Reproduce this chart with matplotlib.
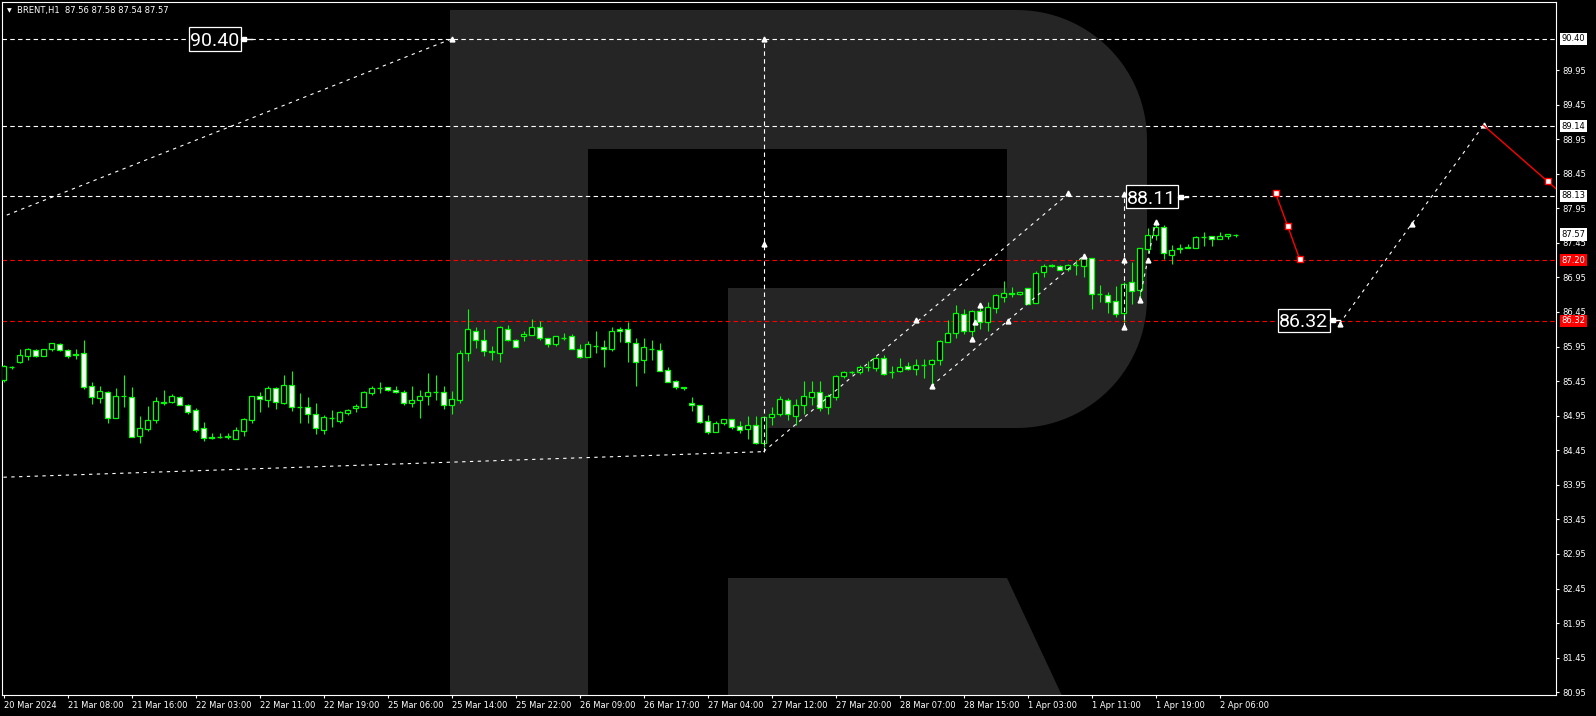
import numpy as np
import matplotlib
matplotlib.use("Agg")
import matplotlib.pyplot as plt
import matplotlib.transforms as mtransforms
from matplotlib.patches import Polygon, Rectangle
from matplotlib import font_manager

# BRENT H1 candles, 20 Mar - 2 Apr 2024
opens = [85.46, 85.66, 85.73, 85.82, 85.90, 85.82, 85.91, 85.99, 85.90, 85.83,
         85.85, 85.38, 85.21, 85.29, 84.92, 85.24, 85.22, 84.65, 84.76, 84.89,
         85.14, 85.15, 85.22, 85.11, 85.03, 84.77, 84.64, 84.64, 84.64, 84.62,
         84.73, 84.89, 85.23, 85.18, 85.35, 85.14, 85.40, 85.08, 85.07, 84.98,
         84.75, 84.91, 84.88, 84.99, 85.06, 85.08, 85.28, 85.35, 85.36, 85.32,
         85.30, 85.14, 85.17, 85.24, 85.30, 85.29, 85.11, 85.18, 85.86, 86.18,
         86.04, 85.89, 85.86, 86.21, 86.05, 86.10, 86.12, 86.24, 86.08, 85.99,
         86.07, 86.10, 85.92, 85.80, 85.96, 85.95, 85.92, 86.21, 86.20, 86.00,
         85.75, 85.91, 85.90, 85.61, 85.45, 85.37, 85.14, 85.10, 84.87, 84.72,
         84.85, 84.90, 84.80, 84.76, 84.82, 84.56, 84.93, 84.98, 85.17, 84.95,
         85.11, 85.22, 85.29, 85.07, 85.22, 85.53, 85.58, 85.58, 85.65, 85.64,
         85.79, 85.58, 85.59, 85.67, 85.63, 85.69, 85.70, 85.75, 86.02, 86.15,
         86.42, 86.18, 86.47, 86.31, 86.51, 86.67, 86.73, 86.71, 86.80, 86.58,
         87.03, 87.11, 87.12, 87.07, 87.13, 87.12, 87.23, 86.71, 86.70, 86.61,
         86.43, 86.88, 86.77, 87.36, 87.57, 87.68, 87.28, 87.36, 87.38, 87.37,
         87.53, 87.55, 87.51, 87.55, 87.56]
highs = [85.68, 85.67, 85.91, 85.93, 85.91, 85.92, 86.00, 86.00, 85.92, 85.91,
         86.05, 85.44, 85.38, 85.31, 85.35, 85.54, 85.37, 84.95, 85.09, 85.22,
         85.32, 85.27, 85.24, 85.12, 85.06, 84.86, 84.70, 84.70, 84.70, 84.78,
         84.92, 85.23, 85.29, 85.38, 85.37, 85.54, 85.60, 85.28, 85.22, 85.13,
         84.96, 85.03, 85.02, 85.05, 85.12, 85.31, 85.38, 85.44, 85.37, 85.38,
         85.32, 85.38, 85.32, 85.57, 85.54, 85.38, 85.31, 85.90, 86.49, 86.24,
         86.21, 85.96, 86.25, 86.26, 86.06, 86.18, 86.35, 86.32, 86.08, 86.10,
         86.15, 86.13, 85.98, 86.03, 86.18, 86.04, 86.24, 86.23, 86.30, 86.08,
         86.08, 86.04, 86.00, 85.66, 85.47, 85.37, 85.22, 85.11, 84.96, 84.88,
         84.90, 84.90, 84.88, 84.95, 84.94, 84.94, 85.08, 85.23, 85.20, 85.19,
         85.45, 85.45, 85.45, 85.27, 85.54, 85.60, 85.60, 85.68, 85.74, 85.81,
         85.83, 85.67, 85.79, 85.73, 85.77, 85.77, 85.77, 86.05, 86.34, 86.55,
         86.50, 86.48, 86.54, 86.59, 86.71, 86.90, 86.81, 86.74, 86.80, 87.05,
         87.15, 87.14, 87.13, 87.14, 87.20, 87.29, 87.23, 86.84, 86.74, 86.83,
         86.89, 87.18, 87.38, 87.66, 87.72, 87.71, 87.42, 87.43, 87.43, 87.55,
         87.60, 87.55, 87.61, 87.58, 87.58]
lows = [85.44, 85.63, 85.71, 85.75, 85.80, 85.82, 85.89, 85.88, 85.79, 85.77,
        85.34, 85.12, 85.13, 84.85, 84.92, 85.08, 84.64, 84.56, 84.73, 84.85,
        85.10, 85.14, 85.10, 84.98, 84.71, 84.59, 84.62, 84.63, 84.61, 84.62,
        84.66, 84.85, 85.00, 85.08, 85.05, 85.12, 85.02, 84.85, 84.85, 84.68,
        84.68, 84.78, 84.84, 84.96, 85.01, 85.08, 85.25, 85.28, 85.31, 85.28,
        85.11, 85.08, 84.92, 85.11, 85.18, 85.05, 84.97, 85.14, 85.74, 85.93,
        85.82, 85.76, 85.73, 86.03, 85.95, 86.03, 86.12, 86.05, 85.95, 85.96,
        86.04, 85.92, 85.78, 85.80, 85.85, 85.65, 85.89, 86.02, 85.73, 85.38,
        85.57, 85.76, 85.60, 85.44, 85.33, 85.32, 85.02, 84.85, 84.68, 84.72,
        84.82, 84.76, 84.70, 84.62, 84.54, 84.50, 84.82, 84.94, 84.89, 84.82,
        84.97, 85.10, 85.02, 84.97, 85.18, 85.50, 85.56, 85.55, 85.60, 85.60,
        85.54, 85.50, 85.58, 85.61, 85.54, 85.50, 85.38, 85.69, 86.01, 86.08,
        86.13, 86.10, 86.20, 86.18, 86.44, 86.60, 86.67, 86.70, 86.56, 86.58,
        86.96, 87.10, 87.06, 87.05, 86.99, 86.95, 86.49, 86.59, 86.44, 86.38,
        86.30, 86.57, 86.63, 87.31, 87.49, 87.21, 87.14, 87.31, 87.38, 87.37,
        87.41, 87.40, 87.50, 87.51, 87.54]
closes = [85.67, 85.66, 85.83, 85.91, 85.82, 85.92, 86.00, 85.90, 85.82, 85.84,
          85.37, 85.22, 85.31, 84.92, 85.24, 85.23, 84.64, 84.77, 84.89, 85.16,
          85.15, 85.24, 85.11, 85.01, 84.75, 84.63, 84.63, 84.64, 84.65, 84.74,
          84.90, 85.23, 85.19, 85.35, 85.15, 85.40, 85.08, 85.08, 84.98, 84.77,
          84.93, 84.91, 85.00, 85.03, 85.09, 85.30, 85.35, 85.35, 85.32, 85.29,
          85.14, 85.18, 85.24, 85.30, 85.30, 85.11, 85.19, 85.85, 86.20, 86.05,
          85.89, 85.87, 86.23, 86.05, 85.95, 86.13, 86.24, 86.08, 85.99, 86.10,
          86.07, 85.92, 85.80, 85.99, 85.96, 85.92, 86.18, 86.17, 86.01, 85.73,
          85.94, 85.91, 85.60, 85.44, 85.37, 85.35, 85.11, 84.86, 84.72, 84.85,
          84.90, 84.79, 84.75, 84.82, 84.56, 84.93, 84.98, 85.19, 84.97, 85.11,
          85.24, 85.29, 85.06, 85.24, 85.52, 85.58, 85.58, 85.66, 85.66, 85.79,
          85.56, 85.58, 85.66, 85.63, 85.69, 85.69, 85.75, 86.03, 86.14, 86.43,
          86.18, 86.46, 86.31, 86.52, 86.70, 86.73, 86.71, 86.74, 86.56, 87.02,
          87.12, 87.13, 87.06, 87.13, 87.13, 87.23, 86.71, 86.71, 86.60, 86.42,
          86.86, 86.76, 87.37, 87.56, 87.68, 87.30, 87.34, 87.37, 87.39, 87.53,
          87.53, 87.51, 87.55, 87.58, 87.57]

time_labels = ["20 Mar 2024", "21 Mar 08:00", "21 Mar 16:00", "22 Mar 03:00",
               "22 Mar 11:00", "22 Mar 19:00", "25 Mar 06:00", "25 Mar 14:00",
               "25 Mar 22:00", "26 Mar 09:00", "26 Mar 17:00", "27 Mar 04:00",
               "27 Mar 12:00", "27 Mar 20:00", "28 Mar 07:00", "28 Mar 15:00",
               "1 Apr 03:00", "1 Apr 11:00", "1 Apr 19:00", "2 Apr 06:00"]
time_ticks = list(range(0, 153, 8))

axis_ticks = [80.95, 81.45, 81.95, 82.45, 82.95, 83.45, 83.95, 84.45, 84.95,
              85.45, 85.95, 86.45, 86.95, 87.45, 87.95, 88.45, 88.95, 89.45, 89.95]
white_levels = [90.40, 89.14, 88.13]
red_levels = [87.20, 86.32]
bid = 87.57

# analyst drawings (bar index, price)
upper_left_x, upper_left_y = [-0.5, 56], [87.81, 90.40]
lower_left_x, lower_left_y = [0, 95], [84.06, 84.43]
vert1_x, vert1_y = [95, 95], [84.43, 90.40]
chan_hi_x, chan_hi_y = [95, 133], [84.43, 88.15]
chan_lo_x, chan_lo_y = [116, 135], [85.38, 87.26]
vert2_x, vert2_y = [140, 140], [86.24, 88.13]
jump_x, jump_y = [142, 144], [86.63, 87.75]
arrow_x = [56, 95, 95, 114, 116, 121, 121.4, 122, 125.5, 133, 135, 140, 140, 140, 142, 143, 144, 167, 176, 185]
arrow_y = [90.40, 90.40, 87.43, 86.33, 85.38, 86.06, 86.30, 86.55, 86.32, 88.17, 87.26, 88.15, 87.20, 86.24, 86.63, 87.20, 87.75, 86.28, 87.72, 89.15]

fc_red1_x, fc_red1_y = [159, 160.5, 162], [88.17, 87.70, 87.22]
fc_white_x, fc_white_y = [167, 176, 185], [86.28, 87.72, 89.15]
fc_red2_x, fc_red2_y = [185, 193, 196], [89.15, 88.34, 88.04]

price_boxes = [("90.40", 26.45, 90.40, 29.7, 31.1),
               ("88.11", 143.5, 88.12, 146.8, 148.0),
               ("86.32", 162.5, 86.33, 165.8, 167.0)]

GREEN = "#00ff00"
RED = "#ff0000"
LOGO = "#252525"

W, H = 1596, 716
fig = plt.figure(figsize=(W / 100, H / 100), dpi=100, facecolor="black")
ax = fig.add_axes([2 / W, 1 - 695 / H, 1554 / W, 693 / H])
ax.set_facecolor("black")
ax.set_xlim(-0.19, 194.06)
ax.set_ylim(80.91, 90.934)

# watermark "R" (image pixel coords)
pix = mtransforms.Affine2D().scale(1 / W, -1 / H).translate(0, 1) + fig.transFigure
t = np.linspace(0, np.pi / 2, 30)
arc_top = np.column_stack([1017 + 130 * np.sin(t), 140 - 130 * np.cos(t)])
arc_bot = np.column_stack([1017 + 130 * np.cos(t), 298 + 130 * np.sin(t)])
outline = np.vstack([[[450, 10]], arc_top, arc_bot,
                     [[728, 428], [728, 288], [1007, 288], [1007, 149],
                      [588, 149], [588, 700], [450, 700]]])
ax.add_patch(Polygon(outline, closed=True, transform=pix, fc=LOGO, ec="none", zorder=0))
ax.add_patch(Polygon([[728, 578], [1007, 578], [1064, 700], [728, 700]], closed=True,
                     transform=pix, fc=LOGO, ec="none", zorder=0))

# level lines
for lv in white_levels:
    ax.axhline(lv, color="white", lw=0.8, ls=(0, (4, 3)), zorder=1)
for lv in red_levels:
    ax.axhline(lv, color=RED, lw=0.8, ls=(0, (4, 3)), zorder=1)

# candles
o = np.array(opens); h = np.array(highs); l = np.array(lows); c = np.array(closes)
x = np.arange(len(o))
ax.vlines(x, l, h, color=GREEN, lw=0.8, zorder=3)
body_lo = np.minimum(o, c)
body_h = np.abs(c - o)
cross = body_h < 0.005
up = (c >= o) & ~cross
dn = (c < o) & ~cross
bw = 0.55
ax.bar(x[up], body_h[up], bw, bottom=body_lo[up], color="black", edgecolor=GREEN, linewidth=0.9, zorder=4)
ax.bar(x[dn], body_h[dn], bw, bottom=body_lo[dn], color="white", edgecolor=GREEN, linewidth=0.9, zorder=4)
ax.hlines(o[cross], x[cross] - bw / 2, x[cross] + bw / 2, color=GREEN, lw=1.0, zorder=4)

# drawings
dot = dict(color="white", lw=0.8, ls=(0, (3, 4)), zorder=5)
ax.plot(upper_left_x, upper_left_y, **dot)
ax.plot(lower_left_x, lower_left_y, **dot)
ax.plot(chan_hi_x, chan_hi_y, **dot)
ax.plot(chan_lo_x, chan_lo_y, **dot)
ax.plot(jump_x, jump_y, **dot)
ax.plot(fc_white_x, fc_white_y, **dot)
ax.plot(vert1_x, vert1_y, color="white", lw=0.8, ls=(0, (4, 3)), zorder=5)
ax.plot(vert2_x, vert2_y, color="white", lw=0.8, ls=(0, (4, 3)), zorder=5)
ax.plot(arrow_x, arrow_y, ls="none", marker="^", ms=3.5, color="white", zorder=6)

ax.plot(fc_red1_x, fc_red1_y, color=RED, lw=1.0, marker="s", ms=4, mfc="white", mec=RED, mew=1, zorder=6)
ax.plot(fc_red2_x, fc_red2_y, color=RED, lw=1.0, zorder=6)
ax.plot(fc_red2_x[1], fc_red2_y[1], marker="s", ms=4, mfc="white", mec=RED, mew=1, zorder=7)

# price label objects
names = {f.name for f in font_manager.fontManager.ttflist}
if "Liberation Sans Narrow" in names:
    lab_font, lab_size = "Liberation Sans Narrow", 17
else:
    lab_font, lab_size = "Roboto", 14
for txt, xc, yc, xr, xt in price_boxes:
    ax.add_patch(Rectangle((xc - 3.25, yc - 0.17), 6.5, 0.34, fc="black", ec="white", lw=0.9, zorder=8))
    ax.text(xc, yc, txt, color="white", fontsize=lab_size, family=lab_font,
            ha="center", va="center_baseline", zorder=9)
    ax.plot([xr, xt], [yc, yc], color="white", lw=1.0, zorder=8)
    ax.plot(xr + 0.35, yc, marker="s", ms=2.5, color="white", zorder=8)

# axes styling
for sp in ax.spines.values():
    sp.set_color("white")
    sp.set_linewidth(0.8)
ax.yaxis.tick_right()
ax.set_yticks(axis_ticks)
ax.set_yticklabels([f"{v:.2f}" for v in axis_ticks])
ax.set_xticks(time_ticks)
ax.set_xticklabels(time_labels, ha="left")
ax.tick_params(axis="both", colors="white", labelsize=6, length=2.5, width=0.8, direction="out")
ax.tick_params(axis="y", pad=2)
ax.tick_params(axis="x", pad=2)

# right-axis price tags
tag_tr = mtransforms.blended_transform_factory(ax.transAxes, ax.transData)
tag_tr = tag_tr + mtransforms.ScaledTranslation(5.5 / 100, 0, fig.dpi_scale_trans)
tags = [(lv, "white", "black") for lv in white_levels] + [(bid, "white", "black")] + \
       [(lv, RED, "white") for lv in red_levels]
for lv, fc, tc in tags:
    ax.text(1.0, lv, f"{lv:.2f}", transform=tag_tr, color=tc, fontsize=6, ha="left", va="center",
            bbox=dict(boxstyle="square,pad=0.22", fc=fc, ec="none"), zorder=20, clip_on=False)

fig.text(7 / W, 1 - 11 / H, "\u25bc", color="white", fontsize=4.5, ha="left", va="center")
fig.text(17 / W, 1 - 11 / H, "BRENT,H1  87.56 87.58 87.54 87.57", color="white",
         fontsize=6, ha="left", va="center")

fig.savefig("out.png", dpi=100, facecolor="black")
